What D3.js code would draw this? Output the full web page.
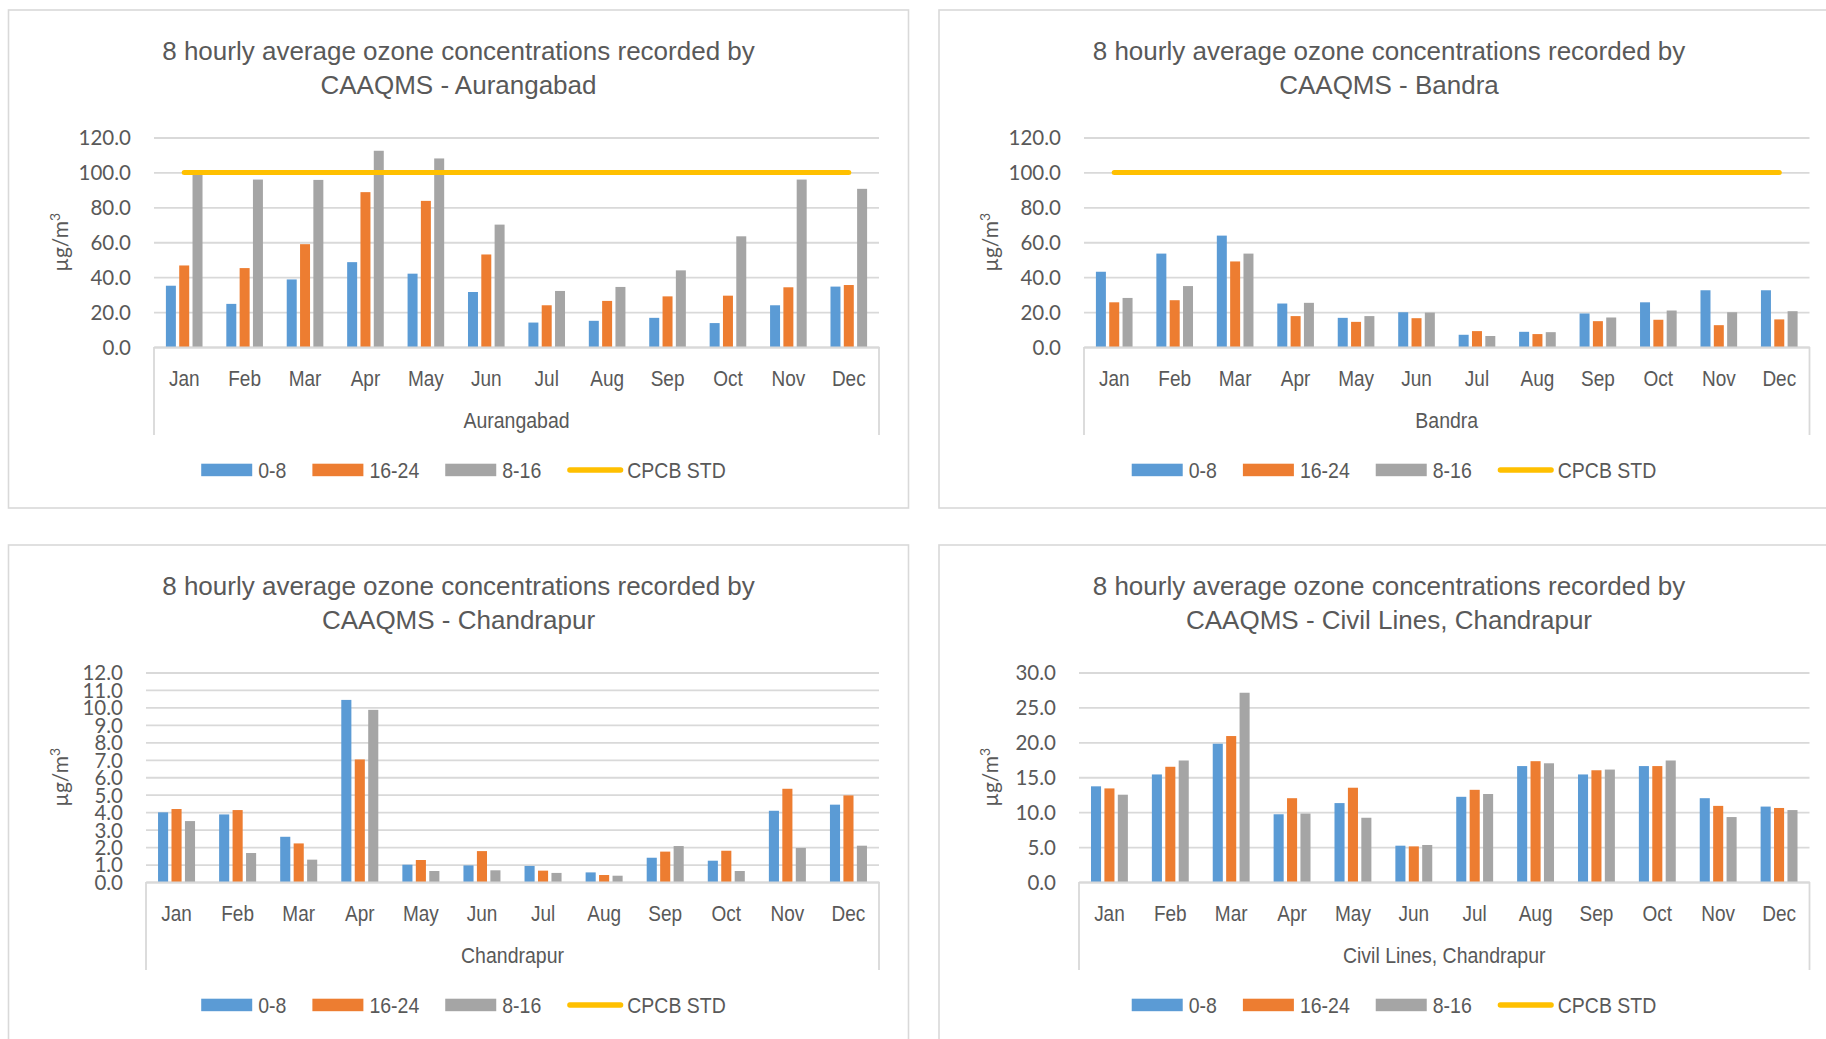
<!DOCTYPE html>
<html>
<head>
<meta charset="utf-8">
<script src="https://cdn.jsdelivr.net/npm/d3@7"></script>
<style>
  html, body { margin: 0; padding: 0; background: #ffffff; }
  svg { display: block; }
</style>
</head>
<body>
<svg id="chart" width="1826" height="1039"></svg>
<script>
// ---- Data -------------------------------------------------------------
const months = ["Jan", "Feb", "Mar", "Apr", "May", "Jun", "Jul", "Aug", "Sep", "Oct", "Nov", "Dec"];
const seriesNames = ["0-8", "16-24", "8-16"];
const stdName = "CPCB STD";
const stations = ["Aurangabad", "Bandra", "Chandrapur", "Civil Lines, Chandrapur"];

// CPCB 8-hourly ozone standard (µg/m3)
const cpcbStd = [100, 100, 100, 100, 100, 100, 100, 100, 100, 100, 100, 100];

const aurangabad0to8   = [35.1, 24.7, 38.7, 48.6, 42.0, 31.5, 14.0, 15.0, 16.7, 13.7, 23.9, 34.6];
const aurangabad16to24 = [46.7, 45.2, 58.9, 88.7, 83.7, 53.0, 23.9, 26.4, 29.0, 29.4, 34.2, 35.5];
const aurangabad8to16  = [99.8, 95.9, 95.7, 112.4, 108.0, 70.1, 32.1, 34.4, 43.9, 63.4, 95.9, 90.6];

const bandra0to8   = [43.1, 53.5, 63.8, 24.9, 16.7, 19.9, 7.0, 8.7, 19.2, 25.6, 32.5, 32.5];
const bandra16to24 = [25.6, 26.8, 49.0, 17.7, 14.4, 16.5, 9.1, 7.4, 14.8, 15.6, 12.5, 15.8];
const bandra8to16  = [28.1, 34.9, 53.5, 25.3, 17.7, 19.7, 6.3, 8.5, 16.9, 20.9, 19.9, 20.5];

const chandrapur0to8   = [3.99, 3.87, 2.59, 10.43, 0.99, 0.95, 0.92, 0.55, 1.39, 1.22, 4.08, 4.43];
const chandrapur16to24 = [4.18, 4.12, 2.21, 7.02, 1.26, 1.77, 0.65, 0.40, 1.74, 1.79, 5.34, 4.96];
const chandrapur8to16  = [3.49, 1.66, 1.28, 9.86, 0.63, 0.67, 0.52, 0.36, 2.06, 0.63, 1.95, 2.08];

const civilLines0to8   = [13.7, 15.4, 19.8, 9.7, 11.3, 5.2, 12.2, 16.6, 15.4, 16.6, 12.0, 10.8];
const civilLines16to24 = [13.4, 16.5, 20.9, 12.0, 13.5, 5.1, 13.2, 17.3, 16.0, 16.6, 10.9, 10.6];
const civilLines8to16  = [12.5, 17.4, 27.1, 9.8, 9.2, 5.3, 12.6, 17.0, 16.1, 17.4, 9.3, 10.3];

const ticks0to120 = [0, 20, 40, 60, 80, 100, 120];
const ticks0to12  = [0, 1, 2, 3, 4, 5, 6, 7, 8, 9, 10, 11, 12];
const ticks0to30  = [0, 5, 10, 15, 20, 25, 30];

// ---- Look & layout ----------------------------------------------------
const colors = { "0-8": "#5B9BD5", "16-24": "#ED7D31", "8-16": "#A5A5A5" };
const stdColor = "#FFC000";
const textColor = "#595959";
const gridColor = "#D9D9D9";
const titleFont = "'Liberation Sans', Arial, sans-serif";
const numFont = "Lato, 'Open Sans', sans-serif";
const labelStretch = 1.15;   // labels are drawn slightly taller than the face's natural proportions

const frameW = 900, frameH = 498;
const panelLayout = [
  { left: 8.5,  top: 10,  plotLeft: 145.5 },
  { left: 939,  top: 10,  plotLeft: 145 },
  { left: 8.5,  top: 545, plotLeft: 137.5 },
  { left: 939,  top: 545, plotLeft: 140 }
];
const plotRightOff = 870.5, plotTopOff = 127.5, plotBottomOff = 337;

const panelData = [
  { station: stations[0], values: [aurangabad0to8, aurangabad16to24, aurangabad8to16], ticks: ticks0to120 },
  { station: stations[1], values: [bandra0to8, bandra16to24, bandra8to16], ticks: ticks0to120 },
  { station: stations[2], values: [chandrapur0to8, chandrapur16to24, chandrapur8to16], ticks: ticks0to12 },
  { station: stations[3], values: [civilLines0to8, civilLines16to24, civilLines8to16], ticks: ticks0to30 }
];

const svg = d3.select("#chart");

panelData.forEach((pd, i) => drawPanel(svg, panelLayout[i], pd, i));

function drawPanel(root, lay, pd, idx) {
  const g = root.append("g").attr("transform", `translate(${lay.left},${lay.top})`);

  // chart-area frame
  g.append("rect")
    .attr("x", 0).attr("y", 0).attr("width", frameW).attr("height", frameH)
    .attr("fill", "#ffffff").attr("stroke", gridColor).attr("stroke-width", 1.6);

  const x0L = lay.plotLeft, x0R = plotRightOff;
  const yT = plotTopOff, yB = plotBottomOff;
  const cx = frameW / 2;

  // title (two lines)
  const title = g.append("text")
    .attr("text-anchor", "middle")
    .attr("font-family", titleFont).attr("font-size", 26).attr("fill", textColor);
  title.append("tspan").attr("x", cx).attr("y", 49.8).text("8 hourly average ozone concentrations recorded by");
  title.append("tspan").attr("x", cx).attr("y", 83.6).text("CAAQMS - " + pd.station);

  // scales
  const x = d3.scaleBand().domain(months).range([x0L, x0R]).paddingInner(0).paddingOuter(0);
  const groupW = x.bandwidth() * 0.606;
  const xs = d3.scaleBand().domain(seriesNames).range([0, groupW]).paddingInner(0.25).paddingOuter(0);
  const yMax = d3.max(pd.ticks);
  const y = d3.scaleLinear().domain([0, yMax]).range([yB, yT]);

  // gridlines + tick labels
  const yAxis = g.append("g")
    .attr("transform", `translate(${x0L},0)`)
    .call(d3.axisLeft(y).tickValues(pd.ticks).tickFormat(d => d.toFixed(1))
      .tickSize(-(x0R - x0L)).tickPadding(23));
  yAxis.select(".domain").remove();
  yAxis.selectAll(".tick line").attr("stroke", gridColor).attr("stroke-width", 1.8);
  yAxis.selectAll(".tick text")
    .attr("font-family", numFont).attr("font-size", 20.5).attr("fill", textColor).attr("dy", "0.36em");

  // y-axis title
  const yt = g.append("text")
    .attr("transform", `translate(59,${(yT + yB) / 2}) rotate(-90)`)
    .attr("text-anchor", "middle")
    .attr("font-family", numFont).attr("font-size", 21).attr("fill", textColor);
  yt.append("tspan").text("µg/m");
  yt.append("tspan").attr("font-size", 14).attr("dy", -8).text("3");

  // bars
  const rows = [];
  seriesNames.forEach((s, si) => {
    months.forEach((m, mi) => rows.push({ s, m, v: pd.values[si][mi] }));
  });
  const groupOff = (x.bandwidth() - groupW) / 2;
  g.append("g").selectAll("rect").data(rows).join("rect")
    .attr("x", d => x(d.m) + groupOff + xs(d.s))
    .attr("y", d => y(d.v))
    .attr("width", xs.bandwidth())
    .attr("height", d => y(0) - y(d.v))
    .attr("fill", d => colors[d.s]);

  // category axis baseline and outer boundary lines
  const xAxis = g.append("g")
    .attr("transform", `translate(0,${yB})`)
    .call(d3.axisBottom(x).tickSize(0).tickPadding(0));
  xAxis.select(".domain").attr("stroke", gridColor).attr("stroke-width", 1.8);
  xAxis.selectAll(".tick text")
    .attr("y", 0).attr("dy", 0)
    .attr("transform", `translate(0,38.9) scale(1,${labelStretch})`)
    .attr("font-family", titleFont).attr("font-size", 19).attr("fill", textColor);

  g.append("g").selectAll("line").data([x0L, x0R]).join("line")
    .attr("x1", d => d).attr("x2", d => d)
    .attr("y1", yB).attr("y2", yB + 88)
    .attr("stroke", gridColor).attr("stroke-width", 1.8);

  g.append("text")
    .attr("transform", `translate(${(x0L + x0R) / 2},${yB + 81.3}) scale(1,${labelStretch})`)
    .attr("text-anchor", "middle")
    .attr("font-family", titleFont).attr("font-size", 19.5).attr("fill", textColor)
    .text(pd.station);

  // CPCB standard line, clipped to the plot area
  const clipId = "plotclip" + idx;
  g.append("clipPath").attr("id", clipId)
    .append("rect").attr("x", x0L).attr("y", yT - 4).attr("width", x0R - x0L).attr("height", yB - yT + 4);
  const line = d3.line()
    .x((d, i) => x(months[i]) + x.bandwidth() / 2)
    .y(d => y(d));
  g.append("path")
    .attr("clip-path", `url(#${clipId})`)
    .attr("d", line(cpcbStd))
    .attr("fill", "none").attr("stroke", stdColor)
    .attr("stroke-width", 5).attr("stroke-linecap", "round");

  // legend
  const lg = g.append("g");
  const legendY = yB + 123;
  const items = seriesNames.map(s => ({ name: s, type: "bar" })).concat([{ name: stdName, type: "line" }]);
  let cursor = 0;
  items.forEach(it => {
    const ig = lg.append("g").attr("transform", `translate(${cursor},0)`);
    let textX;
    if (it.type === "bar") {
      ig.append("rect").attr("x", 0).attr("y", legendY - 6.3).attr("width", 51).attr("height", 12.5)
        .attr("fill", colors[it.name]);
      textX = 57;
    } else {
      ig.append("line").attr("x1", 2.6).attr("x2", 53.4).attr("y1", legendY).attr("y2", legendY)
        .attr("stroke", stdColor).attr("stroke-width", 5.3).attr("stroke-linecap", "round");
      textX = 60;
    }
    const t = ig.append("text")
      .attr("transform", `translate(${textX},${legendY + 8.2}) scale(1,${labelStretch})`)
      .attr("font-family", titleFont).attr("font-size", 19.5).attr("fill", textColor).text(it.name);
    cursor += textX + t.node().getComputedTextLength() + 26;
  });
  const legendW = cursor - 26;
  lg.attr("transform", `translate(${cx + 5 - legendW / 2},0)`);
}
</script>
</body>
</html>
